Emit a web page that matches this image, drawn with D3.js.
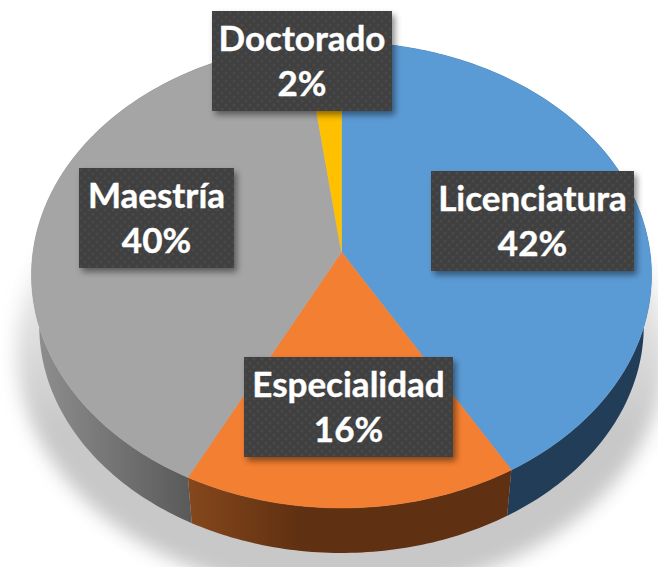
<!DOCTYPE html>
<html>
<head>
<meta charset="utf-8">
<script src="https://cdn.jsdelivr.net/npm/d3@7"></script>
<style>
  html, body { margin: 0; padding: 0; background: #fff; }
  svg { display: block; }
</style>
</head>
<body>
<div id="chartContainer"></div>
<script>
// Chart values; they round to the printed labels.
const categories = ["Licenciatura", "Especialidad", "Maestría", "Doctorado"];
const shares = [41.6, 15.9, 40.4, 2.1];

const topColors = ["#5b9bd5", "#f37f32", "#a5a5a5", "#ffc000"];
// Label box corner for each category.
const labelX = [431, 244, 79, 212];
const labelY = [171, 357, 168, 11];
const labelW = [203, 209, 155, 180];

const width = 658;
const height = 567;
const labelH = 100;

// Top face: the 3D tilted disc. apex is where the slices meet.
const apex = { x: 341.5, y: 252 };
const perspective = 0.0987;
const scaleX = 308.5;
const scaleY = 230.7;
// Bottom face is the same shape, a bit smaller and further down.
const wallScale = 0.975;
const wallY = 303.4;

function project(a, bottom) {
    const u = Math.sin(a);
    const v = -Math.cos(a);
    const d = 1 - perspective * v;
    const k = bottom ? wallScale : 1;
    return [
        apex.x + k * scaleX * u / d,
        (bottom ? wallY : apex.y) + k * scaleY * v / d
    ];
}

function rimPoints(a0, a1, bottom) {
    const n = Math.max(2, Math.ceil(Math.abs(a1 - a0) * 60));
    return d3.range(n + 1).map(i => project(a0 + (a1 - a0) * i / n, bottom));
}

const svg = d3.select("#chartContainer").append("svg")
    .attr("width", width)
    .attr("height", height)
    .attr("viewBox", `0 0 ${width} ${height}`);

const defs = svg.append("defs");

// Soft shadow under the disc.
const shadowFade = defs.append("linearGradient")
    .attr("id", "shadowFade")
    .attr("gradientUnits", "userSpaceOnUse")
    .attr("x1", 0).attr("x2", 0).attr("y1", 190).attr("y2", 430);
shadowFade.append("stop").attr("offset", 0).attr("stop-color", "#c8c8c8").attr("stop-opacity", 0);
shadowFade.append("stop").attr("offset", 1).attr("stop-color", "#c8c8c8").attr("stop-opacity", 1);

defs.append("filter").attr("id", "blurShadow")
    .attr("x", "-10%").attr("y", "-10%").attr("width", "120%").attr("height", "120%")
    .append("feGaussianBlur").attr("stdDeviation", 9);

defs.append("filter").attr("id", "boxShadow")
    .attr("x", "-10%").attr("y", "-15%").attr("width", "125%").attr("height", "135%")
    .append("feDropShadow")
    .attr("dx", 3).attr("dy", 4).attr("stdDeviation", 3)
    .attr("flood-color", "#000").attr("flood-opacity", 0.45);

function wallGradient(id, x1, x2, c1, c2) {
    const g = defs.append("linearGradient")
        .attr("id", id)
        .attr("gradientUnits", "userSpaceOnUse")
        .attr("x1", x1).attr("x2", x2).attr("y1", 0).attr("y2", 0);
    g.append("stop").attr("offset", 0).attr("stop-color", c1);
    g.append("stop").attr("offset", 1).attr("stop-color", c2);
    return `url(#${id})`;
}

const wallColors = [
    "#223d57",
    wallGradient("wallOrange", 190, 300, "#85471c", "#5f3011"),
    wallGradient("wallGray", 35, 190, "#8f8f8f", "#5a5a5a"),
    "#7f6000"
];

// Dotted texture of the label boxes.
const dots = defs.append("pattern")
    .attr("id", "dots")
    .attr("patternUnits", "userSpaceOnUse")
    .attr("width", 8).attr("height", 8);
dots.append("rect").attr("width", 8).attr("height", 8).attr("fill", "#404040");
dots.selectAll("circle")
    .data([[2, 2], [6, 6]])
    .join("circle")
    .attr("cx", d => d[0])
    .attr("cy", d => d[1])
    .attr("r", 1.5)
    .attr("fill", "#4a4a4a");

// Compute the slices.
const slices = d3.pie().sort(null).value(d => d)(shares);
const line = d3.line();
const percent = d3.format(".0f");

// Shadow.
const shadowRim = rimPoints(0, 2 * Math.PI, true)
    .map(p => [apex.x + (p[0] - apex.x) * 1.075, p[1] * 1.08 - 2]);
svg.append("path")
    .attr("d", line(shadowRim) + "Z")
    .attr("fill", "url(#shadowFade)")
    .attr("filter", "url(#blurShadow)");

// Side walls.
svg.append("g")
    .selectAll("path")
    .data(slices)
    .join("path")
    .attr("fill", (d, i) => wallColors[i])
    .attr("d", d => line(rimPoints(d.startAngle, d.endAngle, false)
        .concat(rimPoints(d.endAngle, d.startAngle, true))) + "Z");

// Top faces.
svg.append("g")
    .selectAll("path")
    .data(slices)
    .join("path")
    .attr("fill", (d, i) => topColors[i])
    .attr("stroke", (d, i) => topColors[i])
    .attr("stroke-width", 0.5)
    .attr("d", d => line([[apex.x, apex.y]].concat(rimPoints(d.startAngle, d.endAngle, false))) + "Z");

// Labels.
const label = svg.append("g")
    .selectAll("g")
    .data(categories)
    .join("g")
    .attr("transform", (d, i) => `translate(${labelX[i]},${labelY[i]})`);

label.append("rect")
    .attr("width", (d, i) => labelW[i])
    .attr("height", labelH)
    .attr("fill", "url(#dots)")
    .attr("filter", "url(#boxShadow)");

label.append("text")
    .attr("x", (d, i) => labelW[i] / 2)
    .attr("y", 40)
    .attr("text-anchor", "middle")
    .attr("fill", "#fff")
    .attr("stroke", "#fff")
    .attr("stroke-width", 0.4)
    .style("font", "bold 35px Lato, sans-serif")
    .text(d => d);

label.append("text")
    .attr("x", (d, i) => labelW[i] / 2)
    .attr("y", 85)
    .attr("text-anchor", "middle")
    .attr("fill", "#fff")
    .attr("stroke", "#fff")
    .attr("stroke-width", 0.4)
    .style("font", "bold 35px Lato, sans-serif")
    .text((d, i) => percent(shares[i]) + "%");
</script>
</body>
</html>
